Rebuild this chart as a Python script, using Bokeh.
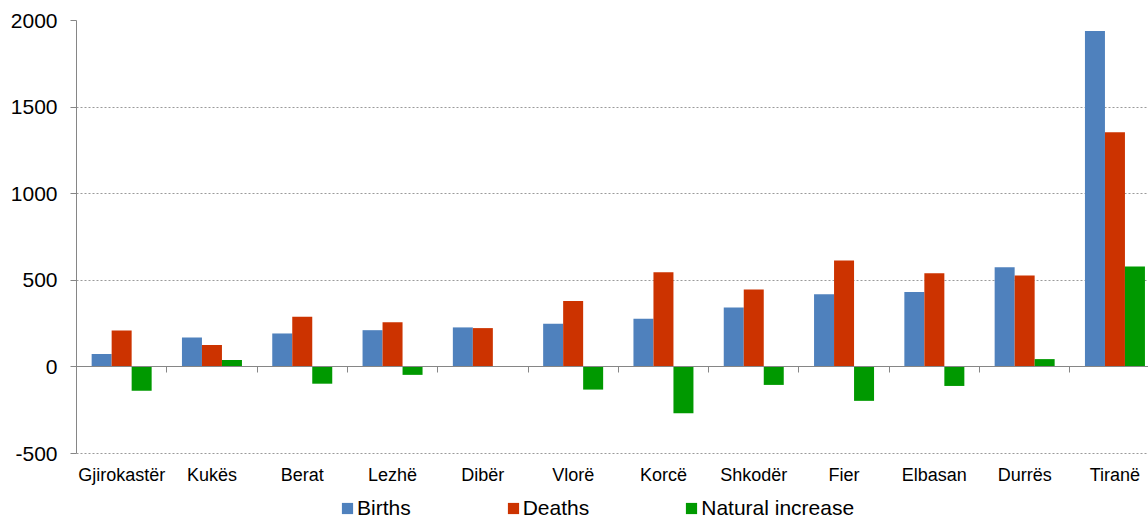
from bokeh.plotting import figure
from bokeh.models import Range1d, FixedTicker, LinearAxis, Legend, LegendItem, ColumnDataSource
from bokeh.core.properties import value
from bokeh.transform import dodge
from bokeh.embed import file_html
from bokeh.resources import INLINE

regions = ["Gjirokastër", "Kukës", "Berat", "Lezhë", "Dibër", "Vlorë",
           "Korcë", "Shkodër", "Fier", "Elbasan", "Durrës", "Tiranë"]
births = [75, 170, 193, 212, 228, 249, 278, 343, 420, 432, 575, 1939]
deaths = [210, 127, 290, 258, 224, 380, 546, 447, 615, 540, 528, 1355]
natural = [-138, 40, -97, -46, 4, -131, -268, -104, -196, -110, 45, 580]
series_names = ["Births", "Deaths", "Natural increase"]
colors = ["#4F81BD", "#CC3300", "#009900"]
y_ticks = [-500, 0, 500, 1000, 1500, 2000]

FONT = "Liberation Sans"
W, H = 1148, 520
LEFT, TOP = 76, 20
cat_px = 90.3                 # pixels per category
px_per_unit = 433 / 2500      # vertical scale
y_lo, y_hi = y_ticks[0], y_ticks[-1]
frame_h = H - TOP
centers = [i + 0.5 for i in range(len(regions))]
bounds = list(range(1, len(regions)))
src = ColumnDataSource(dict(x=centers, births=births, deaths=deaths, natural=natural))
lab = ColumnDataSource(dict(x=centers, y=[y_lo] * len(regions), name=regions))

p = figure(width=W, height=H, output_backend="svg", toolbar_location=None,
           x_range=Range1d(0, (W - LEFT) / cat_px),
           y_range=Range1d(y_hi - frame_h / px_per_unit, y_hi),
           x_axis_location=None, min_border_left=LEFT, min_border_right=0,
           min_border_top=TOP, min_border_bottom=0)
p.outline_line_color = None
p.xgrid.visible = False
p.ygrid.ticker = FixedTicker(ticks=[t for t in y_ticks if t != 0])
p.ygrid.grid_line_color = "#9a9a9a"
p.ygrid.grid_line_dash = "2 2"

bw = 20 / cat_px
renderers = []
for k, (col, c) in enumerate(zip(["births", "deaths", "natural"], colors)):
    r = p.vbar(x=dodge("x", (k - 1) * bw, range=p.x_range), top=col, bottom=0,
               width=bw, source=src, fill_color=c, line_color=None)
    renderers.append(r)

ya = p.yaxis[0]
ya.ticker = FixedTicker(ticks=y_ticks)
ya.bounds = (y_lo, y_hi)
ya.major_label_overrides = {t: str(t) for t in y_ticks}
ya.axis_line_color = "#868686"
ya.major_tick_line_color = "#868686"
ya.major_tick_out = 6
ya.major_tick_in = 0
ya.minor_tick_line_color = None
ya.major_label_standoff = 13
ya.major_label_text_font = FONT
ya.major_label_text_font_size = "21px"
ya.major_label_text_color = "#000000"

# zero line with tick marks between categories (ticks pointing down)
zero_axis = LinearAxis(fixed_location=0, ticker=FixedTicker(ticks=bounds),
                       major_label_overrides={b: "" for b in bounds},
                       axis_line_color="#868686", major_tick_line_color="#868686",
                       major_tick_out=0, major_tick_in=6, minor_tick_line_color=None,
                       major_label_text_font_size="1px", major_label_standoff=0)
p.add_layout(zero_axis, "above")

# category labels under the -500 line
p.text(x="x", y="y", text="name", source=lab, text_align="center", text_baseline="middle",
       y_offset=21, text_font=value(FONT), text_font_size="18px", text_color="#000000")

legend = Legend(items=[LegendItem(label=n, renderers=[r]) for n, r in zip(series_names, renderers)],
                orientation="horizontal", location=(264, 0), glyph_width=14, glyph_height=14,
                label_standoff=3, spacing=95, padding=0, margin=0, border_line_color=None,
                background_fill_alpha=0, label_text_font=FONT, label_text_font_size="21px",
                label_text_color="#000000", label_height=20)
p.add_layout(legend, "center")

open("out.html", "w").write(file_html(p, INLINE))
